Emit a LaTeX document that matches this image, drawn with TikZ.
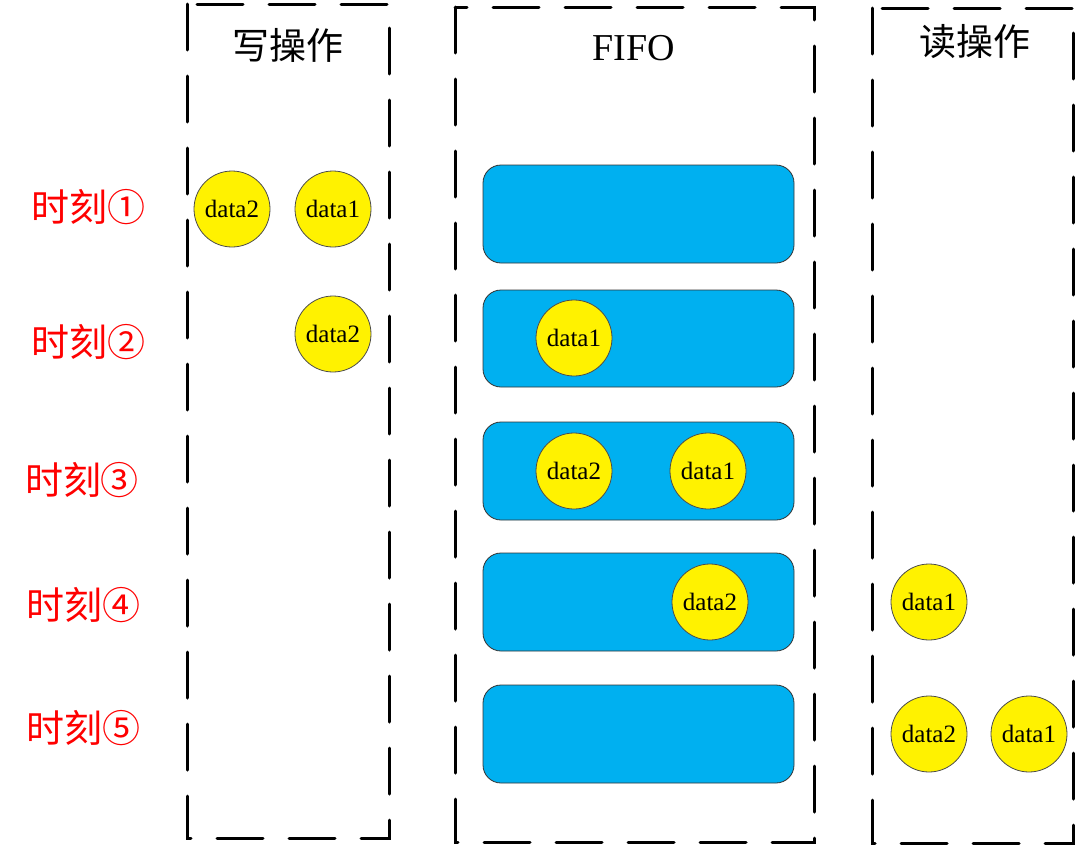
\documentclass[tikz,border=0pt]{standalone}
\usepackage{fontspec}
\setmainfont{Liberation Serif}
\newfontfamily\cjk{Noto Sans CJK SC}
\begin{document}
\begin{tikzpicture}[x=1pt,y=-1pt,
  group/.style={draw=black,line width=3pt,dash pattern=on 46pt off 26pt,line cap=round},
  slot/.style={draw=black!80,line width=0.8pt,fill=fifoblue,rounded corners=18pt},
  datum/.style={circle,draw=black!70,line width=0.8pt,fill=yellow,minimum size=76pt,inner sep=0pt,font=\fontsize{25}{25}\selectfont},
  title/.style={font=\cjk\fontsize{37}{37}\selectfont},
  timelbl/.style={text=red,font=\cjk\fontsize{38}{38}\selectfont}]
\definecolor{fifoblue}{HTML}{00B0F0}
\useasboundingbox[fill=white] (0,0) rectangle (1077,846);
% group boxes
\draw[group] (187,4) rectangle (389,838);
\draw[group] (455,7) rectangle (814,842);
\draw[group] (872,8) rectangle (1073,843);
% titles
\node[title] (wt) at (288,45) {写操作};
\node[font=\fontsize{38}{38}\selectfont] (ft) at (634,48) {FIFO};
\node[title] (rt) at (975,42) {读操作};
% time labels
\node[timelbl] (t1) at (88,207) {时刻①};
\node[timelbl] (t2) at (88,342) {时刻②};
\node[timelbl] (t3) at (82,480) {时刻③};
\node[timelbl] (t4) at (84,605) {时刻④};
\node[timelbl] (t5) at (84,728) {时刻⑤};
% FIFO slots
\draw[slot] (483,165) rectangle (794,263);
\draw[slot] (483,290) rectangle (794,387);
\draw[slot] (483,422) rectangle (794,520);
\draw[slot] (483,553) rectangle (794,651);
\draw[slot] (483,685) rectangle (794,783);
% data
\node[datum] (w1b) at (232,209) {data2};
\node[datum] (w1a) at (333,209) {data1};
\node[datum] (w2b) at (333,334) {data2};
\node[datum] (f2a) at (574,338) {data1};
\node[datum] (f3b) at (574,471) {data2};
\node[datum] (f3a) at (708,471) {data1};
\node[datum] (f4b) at (710,602) {data2};
\node[datum] (r4a) at (929,602) {data1};
\node[datum] (r5b) at (929,734) {data2};
\node[datum] (r5a) at (1029,734) {data1};
\end{tikzpicture}
\end{document}
